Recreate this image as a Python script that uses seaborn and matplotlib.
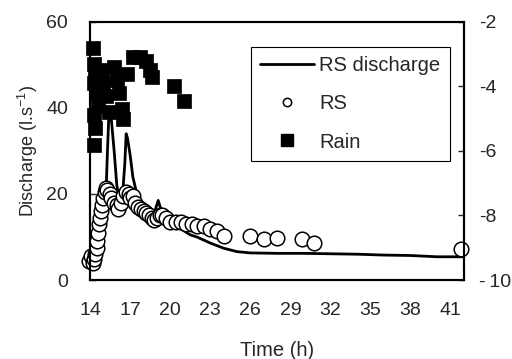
import matplotlib
matplotlib.use("Agg")
import matplotlib.pyplot as plt
import seaborn as sns
from matplotlib.lines import Line2D

# Discharge hydrograph (l/s) at the RS station
t_line = [14.0, 14.3, 14.5, 14.7, 14.9, 15.0, 15.1, 15.2, 15.3, 15.4, 15.5, 15.6, 15.8,
          16.0, 16.2, 16.4, 16.6, 16.7, 16.8, 17.0, 17.2, 17.5, 17.8, 18.1, 18.4, 18.7,
          18.9, 19.1, 19.3, 19.6, 20.0, 20.5, 21.0, 21.5, 22.0, 22.5, 23.0, 23.5, 24.0,
          24.5, 25.0, 26.0, 28.0, 30.0, 32.0, 34.0, 36.0, 38.0, 40.0, 42.0]
q_line = [5.0, 4.8, 6.0, 9.0, 13.0, 16.0, 19.0, 21.0, 30.0, 38.0, 40.0, 37.0, 30.0,
          22.0, 19.0, 18.5, 27.0, 34.0, 33.0, 29.0, 24.0, 20.0, 18.0, 16.5, 15.5, 15.0,
          16.5, 18.5, 16.5, 14.5, 13.5, 12.5, 11.5, 10.5, 10.0, 9.3, 8.6, 8.0, 7.4,
          7.0, 6.6, 6.3, 6.2, 6.2, 6.1, 6.0, 5.8, 5.7, 5.4, 5.4]

# Sampled discharge (RS)
t_rs = [13.9, 14.1, 14.2, 14.3, 14.4, 14.5, 14.55, 14.6, 14.7, 14.75, 14.85, 14.9,
        15.0, 15.1, 15.2, 15.3, 15.5, 15.6, 15.8, 16.0, 16.1, 16.3, 16.5, 16.7, 16.9,
        17.0, 17.2, 17.4, 17.6, 17.8, 18.0, 18.2, 18.4, 18.6, 18.8, 19.0, 19.2, 19.4,
        19.7, 20.0, 20.4, 20.8, 21.2, 21.6, 22.0, 22.5, 23.0, 23.5, 24.0, 26.0, 27.0,
        28.0, 29.9, 30.8, 41.8]
q_rs = [4.5, 5.5, 4.0, 5.0, 6.0, 7.5, 9.0, 11.0, 13.0, 14.5, 16.0, 17.5,
        19.0, 20.5, 21.5, 21.0, 20.0, 19.0, 18.0, 17.5, 16.5, 18.0, 19.5, 20.5, 20.0,
        19.0, 19.5, 18.0, 17.0, 16.5, 16.0, 15.5, 15.0, 14.5, 14.0, 14.5, 15.0, 15.0,
        14.5, 13.5, 13.5, 13.5, 13.0, 13.0, 12.5, 12.5, 11.8, 11.5, 10.3, 10.3, 9.5,
        9.8, 9.5, 8.7, 7.2]

# Rain (secondary axis)
t_rain = [14.2, 14.3, 14.4, 14.3, 14.5, 14.6, 14.3, 14.4, 14.3,
          14.9, 15.0, 15.2, 15.4,
          15.8, 16.0, 16.2, 16.4, 16.5,
          16.8, 17.2, 17.7, 18.2, 18.5, 18.6,
          20.3, 21.0]
r_rain = [-2.8, -3.3, -3.6, -3.9, -4.2, -4.6, -4.9, -5.3, -5.8,
          -3.5, -3.9, -4.3, -4.8,
          -3.4, -3.8, -4.2, -4.7, -5.0,
          -3.6, -3.1, -3.1, -3.2, -3.5, -3.7,
          -4.0, -4.45]

x_ticks = [14, 17, 20, 23, 26, 29, 32, 35, 38, 41]
y_ticks = [0, 20, 40, 60]
y2_ticks = [-10, -8, -6, -4, -2]
y2_labels = ["-\u200910", "-8", "-6", "-4", "-2"]

sns.set_style("white")
plt.rcParams["font.family"] = ["Liberation Sans", "DejaVu Sans"]
plt.rcParams["axes.unicode_minus"] = False
plt.rcParams["mathtext.default"] = "regular"

fs_tick = 14
fs_lab = 14.5
fig = plt.figure(figsize=(5.12, 3.59), dpi=100)
ax = fig.add_axes([0.176, 0.22, 0.730, 0.719])
ax2 = ax.twinx()

sns.lineplot(x=t_line, y=q_line, ax=ax, color="black", linewidth=2.0,
             sort=False, legend=False, zorder=3)
sns.scatterplot(x=t_rs, y=q_rs, ax=ax, marker="o", s=110, facecolor="white",
                edgecolor="black", linewidth=1.1, legend=False, zorder=4, clip_on=False)
sns.scatterplot(x=t_rain, y=r_rain, ax=ax2, marker="s", s=90, color="black",
                edgecolor="black", linewidth=0.5, legend=False, clip_on=False)

ax.set_xlim(14, 42)
ax.set_ylim(0, 60)
ax2.set_ylim(-10, -2)
ax.set_xticks(x_ticks)
ax.set_yticks(y_ticks)
ax2.set_yticks(y2_ticks)
ax2.set_yticklabels(y2_labels)

for a in (ax, ax2):
    for s in a.spines.values():
        s.set_color("black")
        s.set_linewidth(1.5)
    a.grid(False)
ax.tick_params(axis="x", direction="in", length=4, width=1, pad=16, labelsize=fs_tick)
ax.tick_params(axis="y", direction="in", length=4, width=1, pad=16, labelsize=fs_tick)
ax2.tick_params(axis="y", direction="in", length=4, width=1, pad=11, labelsize=fs_tick)

ax.set_xlabel("Time (h)", fontsize=fs_lab, labelpad=16)
ax.set_ylabel("Discharge (l.s$^{-1}$)", fontsize=13, labelpad=4)

handles = [
    Line2D([], [], color="black", linewidth=2.0),
    Line2D([], [], color="black", marker="o", markerfacecolor="white",
           markersize=6, linestyle="none", markeredgewidth=1.1),
    Line2D([], [], color="black", marker="s", markersize=8, linestyle="none"),
]
leg = ax2.legend(handles, ["RS discharge", "RS", "Rain"], loc="upper right",
                 bbox_to_anchor=(0.962, 0.902), fontsize=fs_lab, frameon=True,
                 fancybox=False, handlelength=2.7, handletextpad=0.25,
                 labelspacing=0.95, borderpad=0.45, borderaxespad=0)
leg.get_frame().set_edgecolor("black")
leg.get_frame().set_linewidth(0.8)
leg.get_frame().set_alpha(1)

fig.savefig("out.png", dpi=100)
